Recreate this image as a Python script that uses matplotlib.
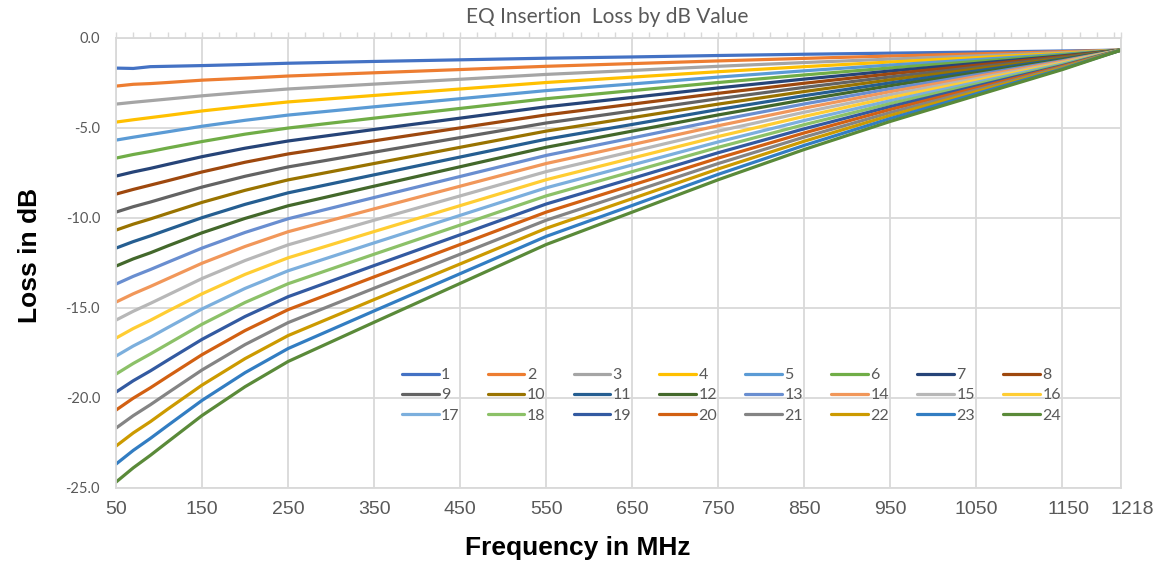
import matplotlib
matplotlib.use("Agg")
import matplotlib.pyplot as plt
import matplotlib.transforms as mtransforms
from matplotlib.ticker import FixedLocator, MultipleLocator

# frequency points (MHz)
freqs = [50, 70, 90, 110, 150, 200, 250, 350, 450, 550, 650, 750, 850, 950, 1050, 1150, 1218]

# insertion loss (dB) for each EQ setting 1..24
eq_settings = list(range(1, 25))
loss = [
    [-1.70, -1.72, -1.62, -1.60, -1.56, -1.50, -1.43, -1.33, -1.24, -1.15, -1.08, -1.00, -0.93, -0.87, -0.81, -0.75, -0.70],
    [-2.70, -2.60, -2.56, -2.50, -2.37, -2.26, -2.14, -1.96, -1.78, -1.60, -1.45, -1.30, -1.16, -1.03, -0.91, -0.79, -0.70],
    [-3.70, -3.60, -3.51, -3.42, -3.24, -3.04, -2.86, -2.59, -2.32, -2.05, -1.83, -1.60, -1.39, -1.20, -1.02, -0.84, -0.70],
    [-4.70, -4.57, -4.45, -4.33, -4.08, -3.82, -3.58, -3.22, -2.86, -2.50, -2.20, -1.90, -1.62, -1.36, -1.12, -0.88, -0.70],
    [-5.70, -5.54, -5.39, -5.24, -4.93, -4.60, -4.31, -3.85, -3.40, -2.95, -2.58, -2.20, -1.85, -1.53, -1.23, -0.93, -0.70],
    [-6.70, -6.50, -6.33, -6.14, -5.78, -5.37, -5.03, -4.48, -3.94, -3.40, -2.95, -2.50, -2.08, -1.69, -1.33, -0.97, -0.70],
    [-7.70, -7.47, -7.27, -7.05, -6.62, -6.15, -5.75, -5.11, -4.48, -3.85, -3.33, -2.80, -2.31, -1.86, -1.44, -1.02, -0.70],
    [-8.70, -8.44, -8.20, -7.96, -7.47, -6.93, -6.47, -5.74, -5.02, -4.30, -3.70, -3.10, -2.54, -2.02, -1.54, -1.06, -0.70],
    [-9.70, -9.40, -9.14, -8.86, -8.31, -7.71, -7.19, -6.37, -5.56, -4.75, -4.08, -3.40, -2.77, -2.19, -1.65, -1.11, -0.70],
    [-10.70, -10.37, -10.08, -9.77, -9.16, -8.49, -7.91, -7.00, -6.10, -5.20, -4.45, -3.70, -3.00, -2.35, -1.75, -1.15, -0.70],
    [-11.70, -11.34, -11.02, -10.68, -10.01, -9.27, -8.63, -7.63, -6.64, -5.65, -4.83, -4.00, -3.23, -2.52, -1.86, -1.20, -0.70],
    [-12.70, -12.30, -11.96, -11.58, -10.85, -10.05, -9.35, -8.26, -7.18, -6.10, -5.20, -4.30, -3.46, -2.68, -1.96, -1.24, -0.70],
    [-13.70, -13.27, -12.89, -12.49, -11.70, -10.83, -10.07, -8.89, -7.72, -6.55, -5.58, -4.60, -3.69, -2.85, -2.07, -1.29, -0.70],
    [-14.70, -14.24, -13.83, -13.40, -12.54, -11.61, -10.79, -9.52, -8.26, -7.00, -5.95, -4.90, -3.92, -3.01, -2.17, -1.33, -0.70],
    [-15.70, -15.21, -14.77, -14.31, -13.39, -12.39, -11.52, -10.15, -8.80, -7.45, -6.33, -5.20, -4.15, -3.18, -2.28, -1.38, -0.70],
    [-16.70, -16.17, -15.71, -15.21, -14.24, -13.16, -12.24, -10.78, -9.34, -7.90, -6.70, -5.50, -4.38, -3.34, -2.38, -1.42, -0.70],
    [-17.70, -17.14, -16.65, -16.12, -15.08, -13.94, -12.96, -11.41, -9.88, -8.35, -7.08, -5.80, -4.61, -3.51, -2.49, -1.47, -0.70],
    [-18.70, -18.11, -17.58, -17.03, -15.93, -14.72, -13.68, -12.04, -10.42, -8.80, -7.45, -6.10, -4.84, -3.67, -2.59, -1.51, -0.70],
    [-19.70, -19.07, -18.52, -17.93, -16.77, -15.50, -14.40, -12.67, -10.96, -9.25, -7.83, -6.40, -5.07, -3.84, -2.70, -1.56, -0.70],
    [-20.70, -20.04, -19.46, -18.84, -17.62, -16.28, -15.12, -13.30, -11.50, -9.70, -8.20, -6.70, -5.30, -4.00, -2.80, -1.60, -0.70],
    [-21.70, -21.01, -20.40, -19.75, -18.47, -17.06, -15.84, -13.93, -12.04, -10.15, -8.58, -7.00, -5.53, -4.17, -2.91, -1.65, -0.70],
    [-22.70, -21.97, -21.34, -20.65, -19.31, -17.84, -16.56, -14.56, -12.58, -10.60, -8.95, -7.30, -5.76, -4.33, -3.01, -1.69, -0.70],
    [-23.70, -22.94, -22.27, -21.56, -20.16, -18.62, -17.28, -15.19, -13.12, -11.05, -9.33, -7.60, -5.99, -4.50, -3.12, -1.74, -0.70],
    [-24.70, -23.91, -23.21, -22.47, -21.00, -19.40, -18.00, -15.82, -13.66, -11.50, -9.70, -7.90, -6.22, -4.66, -3.22, -1.78, -0.70],
]

colors = ["#4472C4", "#ED7D31", "#A5A5A5", "#FFC000", "#5B9BD5", "#70AD47",
          "#264478", "#9E480E", "#636363", "#997300", "#255E91", "#43682B",
          "#698ED0", "#F1975A", "#B7B7B7", "#FFCD33", "#7CAFDD", "#8CC168",
          "#335AA1", "#D26012", "#848484", "#CC9A00", "#327DC2", "#5A8A39"]

xticks = [50, 150, 250, 350, 450, 550, 650, 750, 850, 950, 1050, 1150, 1218]
yticks = [0, -5, -10, -15, -20, -25]

txt = "#595959"
grid = "#d9d9d9"

W, H = 1156, 563
fig = plt.figure(figsize=(W / 100, H / 100), dpi=100)
ax = fig.add_axes([116 / W, 1 - 487.5 / H, 1005 / W, 450 / H])

lines = []
for i, row in enumerate(loss):
    ln, = ax.plot(freqs, row, color=colors[i], lw=2.3, label=str(eq_settings[i]),
                  solid_capstyle="round", solid_joinstyle="round")
    lines.append(ln)

ax.set_xlim(50, 1218)
ax.set_ylim(-25, 0)
ax.xaxis.set_major_locator(FixedLocator(xticks))
ax.set_xticklabels([str(t) for t in xticks], fontsize=14, color=txt, family="Liberation Sans")
ax.xaxis.set_minor_locator(MultipleLocator(20, offset=50))
ax.tick_params(axis="x", which="both", bottom=False, top=True, direction="out",
               length=4, width=1, color=grid, pad=6)
# last two labels sit a little to the right in the original
lbls = ax.get_xticklabels()
for lb, dx in ((lbls[-2], 6), (lbls[-1], 11)):
    lb.set_transform(lb.get_transform() + mtransforms.ScaledTranslation(dx / 100, 0, fig.dpi_scale_trans))

ax.set_yticks(yticks)
ax.set_yticklabels(["%.1f" % t for t in yticks], fontsize=10.5, color=txt, family="Lato")
ax.tick_params(axis="y", left=False, pad=8)

ax.grid(True, which="major", color=grid, lw=1.3)
ax.set_axisbelow(True)
for s in ax.spines.values():
    s.set_color(grid)
    s.set_linewidth(1.3)

fig.text(607 / W, 1 - 17 / H, "EQ Insertion  Loss by dB Value", ha="center", va="center",
         fontsize=15, color=txt, family="Lato")
fig.text(0.5, 1 - 548 / H, "Frequency in MHz", ha="center", va="center",
         fontsize=19, fontweight="bold", family="Liberation Sans", color="black")
fig.text(30 / W, 1 - 255 / H, "Loss in dB", ha="center", va="center", rotation=90,
         fontsize=19, fontweight="bold", family="Liberation Sans", color="black")

# legend in rows of 8 (matplotlib fills columns first)
order = [r * 8 + c for c in range(8) for r in range(3)]
leg = ax.legend([lines[k] for k in order], [lines[k].get_label() for k in order],
                ncol=8, loc="upper left", bbox_to_anchor=(402 / W, 1 - 368 / H),
                bbox_transform=fig.transFigure, frameon=False, borderpad=0,
                borderaxespad=0, handlelength=2.3, handletextpad=0.15,
                columnspacing=1.76, labelspacing=0.38,
                prop={"family": "Lato", "size": 11.5})
for t in leg.get_texts():
    t.set_color(txt)

fig.savefig("out.png", dpi=100)
